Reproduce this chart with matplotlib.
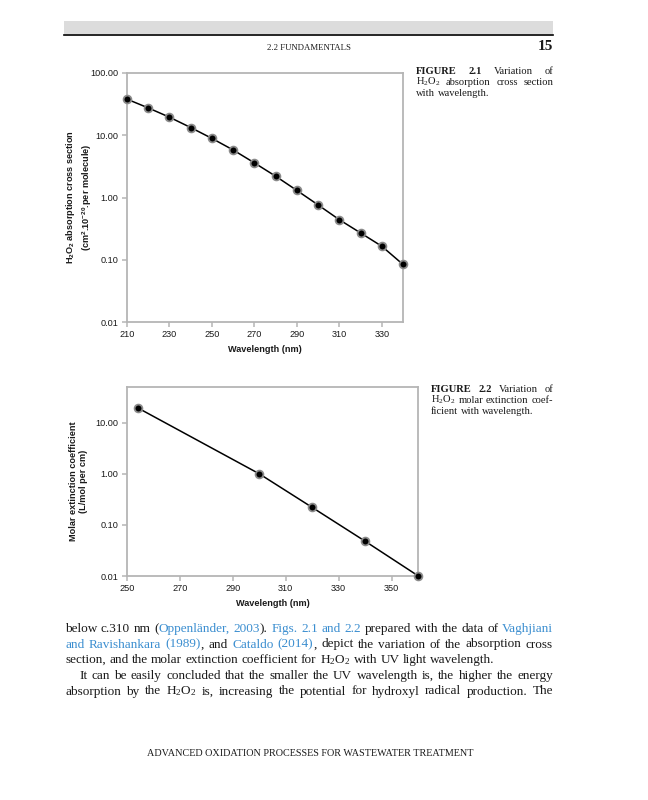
import matplotlib
matplotlib.use('Agg')
import matplotlib.pyplot as plt
from matplotlib.ticker import FixedLocator, FuncFormatter, NullLocator
from matplotlib.patches import Rectangle
from matplotlib.lines import Line2D

plt.rcParams['mathtext.fontset'] = 'custom'
plt.rcParams['mathtext.rm'] = 'Liberation Serif'
plt.rcParams['mathtext.it'] = 'Liberation Serif:italic'
plt.rcParams['mathtext.bf'] = 'Liberation Sans:bold'

# ---------------- data ----------------
wl_cross = [210, 220, 230, 240, 250, 260, 270, 280, 290, 300, 310, 320, 330, 340]
cross_section = [38.0, 27.5, 19.5, 13.3, 8.9, 5.8, 3.6, 2.2, 1.3, 0.76, 0.44, 0.27, 0.165, 0.084]
xticks_1 = [210, 230, 250, 270, 290, 310, 330]

wl_molar = [254, 300, 320, 340, 360]
molar_ext = [19.6, 1.0, 0.22, 0.048, 0.0101]
xticks_2 = [250, 270, 290, 310, 330, 350]

yticks_1 = [0.01, 0.1, 1, 10, 100]
yticks_2 = [0.01, 0.1, 1, 10]

W, H = 648, 800
fig = plt.figure(figsize=(W / 100, H / 100), dpi=100)
fig.patch.set_facecolor('white')

SANS = ['Liberation Sans', 'DejaVu Sans']
SERIF = ['Liberation Serif', 'DejaVu Serif']
BLUE = '#3b8ed0'
K = '#1a1a1a'
GRID_GRAY = '#b5b5b5'


def ax_rect(l, t, r, b):
    return [l / W, 1 - b / H, (r - l) / W, (b - t) / H]


def style_axes(ax, xticks, yticks, xlim, ylim):
    ax.set_yscale('log')
    ax.set_xlim(*xlim)
    ax.set_ylim(*ylim)
    ax.xaxis.set_major_locator(FixedLocator(xticks))
    ax.yaxis.set_major_locator(FixedLocator(yticks))
    ax.yaxis.set_minor_locator(NullLocator())
    ax.xaxis.set_minor_locator(NullLocator())
    ax.yaxis.set_major_formatter(FuncFormatter(lambda v, p: f'{v:.2f}'))
    ax.xaxis.set_major_formatter(FuncFormatter(lambda v, p: f'{v:.0f}'))
    for s in ax.spines.values():
        s.set_color(GRID_GRAY)
        s.set_linewidth(1.3)
    ax.tick_params(axis='both', which='major', direction='out', length=3.5, width=1.1,
                   color=GRID_GRAY, labelsize=6.6, labelcolor=K, pad=2.5)
    for lab in ax.get_xticklabels() + ax.get_yticklabels():
        lab.set_family(SANS)


def plot_series(ax, x, y):
    ax.plot(x, y, color='black', lw=1.1, zorder=3, clip_on=False)
    ax.plot(x, y, ls='none', marker='o', ms=5.6, mfc='black', mec='#8a8a8a', mew=1.3,
            zorder=4, clip_on=False)


# ---------------- Figure 2.1 ----------------
ax1 = fig.add_axes(ax_rect(127, 73, 403, 322))
plot_series(ax1, wl_cross, cross_section)
style_axes(ax1, xticks_1, yticks_1, (210, 340), (0.01, 100))
ax1.set_xlabel('Wavelength (nm)', fontsize=6.6, fontweight='bold', family=SANS, color=K, labelpad=4)
ax1.set_ylabel('H$_\\mathbf{2}$O$_\\mathbf{2}$ absorption cross section\n'
               '(cm$^\\mathbf{2}$.10$^\\mathbf{-20}$.per molecule)',
               fontsize=6.6, fontweight='bold', family=SANS, color=K,
               linespacing=1.25, va='center', ha='center')
ax1.yaxis.set_label_coords((78.5 - 127) / 276, 0.5)

# ---------------- Figure 2.2 ----------------
ax2 = fig.add_axes(ax_rect(127, 387, 418, 576))
plot_series(ax2, wl_molar, molar_ext)
style_axes(ax2, xticks_2, yticks_2, (250, 360), (0.01, 50))
ax2.set_xlabel('Wavelength (nm)', fontsize=6.6, fontweight='bold', family=SANS, color=K, labelpad=4)
ax2.set_ylabel('Molar extinction coefficient\n(L/mol per cm)',
               fontsize=6.6, fontweight='bold', family=SANS, color=K,
               linespacing=1.25, va='center', ha='center')
ax2.yaxis.set_label_coords((78.5 - 127) / 291, 0.5)

# ---------------- page decorations ----------------
fig.patches.append(Rectangle((64 / W, 1 - 34 / H), (553 - 64) / W, 13 / H,
                             transform=fig.transFigure, facecolor='#dcdcdc', edgecolor='none'))
fig.lines.append(Line2D([64 / W, 553 / W], [1 - 34.5 / H, 1 - 34.5 / H],
                        transform=fig.transFigure, color='black', lw=1.2))
fig.text(309 / W, 1 - 49.5 / H, '2.2 FUNDAMENTALS', ha='center', va='baseline',
         fontsize=6.3, family=SERIF, color=K)
fig.text(553 / W, 1 - 50 / H, '15', ha='right', va='baseline', fontsize=11,
         fontweight='bold', family=SERIF, color=K)
fig.text(310 / W, 1 - 756 / H, 'ADVANCED OXIDATION PROCESSES FOR WASTEWATER TREATMENT',
         ha='center', va='baseline', fontsize=7.3, family=SERIF, color=K)

renderer = fig.canvas.get_renderer()


def tokenize(segs):
    words = [[]]
    for seg in segs:
        if len(seg) == 2:
            text, color = seg
            weight = 'normal'
        else:
            text, color, weight = seg
        parts = text.split(' ')
        for i, p in enumerate(parts):
            if i > 0:
                words.append([])
            if p:
                words[-1].append((p, color, weight))
    return [w for w in words if w]


def draw_line(segs, x0, x1, y, size, justify=True):
    words = tokenize(segs)
    items = []
    total = 0.0
    for w in words:
        wp = []
        for (p, c, wt) in w:
            t = fig.text(0, 0, p, fontsize=size, family=SERIF, color=c, fontweight=wt,
                         va='baseline', ha='left')
            width = t.get_window_extent(renderer).width
            wp.append((t, width))
            total += width
        items.append(wp)
    if justify and len(items) > 1:
        gap = (x1 - x0 - total) / (len(items) - 1)
    else:
        gap = size * 100 / 72 * 0.25
    x = x0
    for wp in items:
        for t, width in wp:
            t.set_position((x / W, 1 - y / H))
            x += width
        x += gap


# captions
CAP = 7.6
draw_line([('FIGURE 2.1', K, 'bold'), (' Variation of', K)], 416, 553, 74.5, CAP)
draw_line([('H$_2$O$_2$ absorption cross section', K)], 416, 553, 85, CAP)
draw_line([('with wavelength.', K)], 416, 553, 95.5, CAP, justify=False)

draw_line([('FIGURE 2.2', K, 'bold'), (' Variation of', K)], 431, 553, 392.5, CAP)
draw_line([('H$_2$O$_2$ molar extinction coef-', K)], 431, 553, 403, CAP)
draw_line([('ficient with wavelength.', K)], 431, 553, 413.5, CAP, justify=False)

# body text
BODY = 9.5
draw_line([('below c.310 nm (', K), ('Oppenländer, 2003', BLUE), ('). ', K),
           ('Figs. 2.1 and 2.2', BLUE), (' prepared with the data of ', K), ('Vaghjiani', BLUE)],
          65, 553, 632, BODY)
draw_line([('and Ravishankara (1989)', BLUE), (', and ', K), ('Cataldo (2014)', BLUE),
           (', depict the variation of the absorption cross', K)],
          65, 553, 647.5, BODY)
draw_line([('section, and the molar extinction coefficient for H$_2$O$_2$ with UV light wavelength.', K)],
          65, 553, 663, BODY, justify=False)
draw_line([('It can be easily concluded that the smaller the UV wavelength is, the higher the energy', K)],
          79, 553, 679, BODY)
draw_line([('absorption by the H$_2$O$_2$ is, increasing the potential for hydroxyl radical production. The', K)],
          65, 553, 694.5, BODY)

fig.savefig('out.png', dpi=100, facecolor='white')
